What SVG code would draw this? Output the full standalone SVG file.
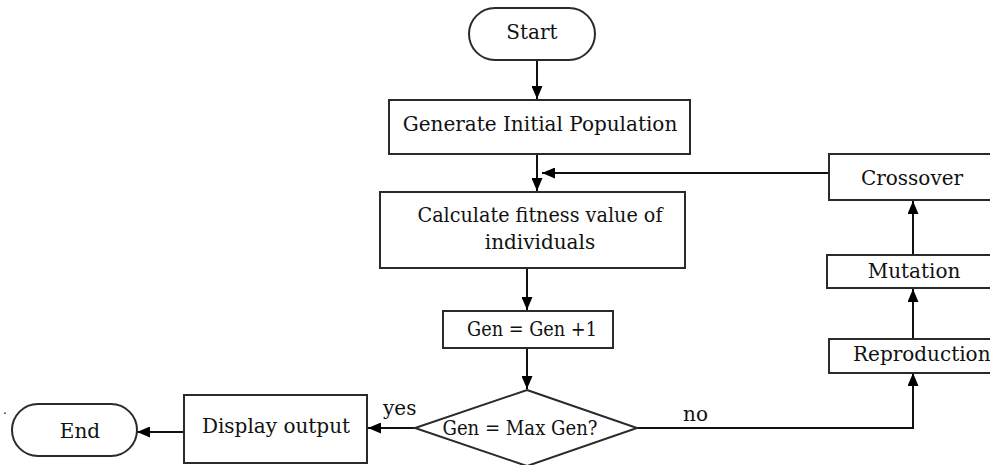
<svg xmlns="http://www.w3.org/2000/svg" width="990" height="465" viewBox="0 0 990 465">
<style>
.b{fill:#fff;stroke:#2a2a2a;stroke-width:2}
.c{fill:none;stroke:#111;stroke-width:2}
text{font-family:"DejaVu Serif","Liberation Serif",serif;font-size:20px;fill:#111;text-anchor:middle}
.l{text-anchor:start}
</style>
<defs>
<marker id="a" viewBox="0 0 13 11" refX="13" refY="5.5" markerWidth="13" markerHeight="11" markerUnits="userSpaceOnUse" orient="auto">
<path d="M0,0L13,5.5L0,11z" fill="#000"/>
</marker>
</defs>
<rect width="990" height="465" fill="#fff"/>
<g id="connectors">
<path class="c" d="M537,60V99" marker-end="url(#a)"/>
<path class="c" d="M537,154V191" marker-end="url(#a)"/>
<path class="c" d="M829,173H542" marker-end="url(#a)"/>
<path class="c" d="M527,268V310" marker-end="url(#a)"/>
<path class="c" d="M527,348V389" marker-end="url(#a)"/>
<path class="c" d="M913,255V201" marker-end="url(#a)"/>
<path class="c" d="M913,339V289" marker-end="url(#a)"/>
<path class="c" d="M637,428H913V373" marker-end="url(#a)"/>
<path class="c" d="M415,428H368" marker-end="url(#a)"/>
<path class="c" d="M184,432H137" marker-end="url(#a)"/>
<text class="l" x="383" y="415">yes</text>
<text class="l" x="683" y="421">no</text>
</g>
<g id="start"><rect class="b" x="469" y="8" width="126" height="52" rx="26"/><text x="532" y="39">Start</text></g>
<g id="generate"><rect class="b" x="389" y="100" width="301" height="54"/><text x="540" y="131">Generate Initial Population</text></g>
<g id="calculate"><rect class="b" x="380" y="192" width="305" height="76"/><text x="540" y="222" textLength="245" lengthAdjust="spacingAndGlyphs">Calculate fitness value of</text><text x="540" y="249">individuals</text></g>
<g id="gen"><rect class="b" x="443" y="311" width="170" height="37"/><text x="532" y="336" textLength="130" lengthAdjust="spacingAndGlyphs">Gen = Gen +1</text></g>
<g id="decision"><path class="b" d="M527,390L637,428L527,466L415,428Z"/><text x="520" y="435" textLength="155" lengthAdjust="spacingAndGlyphs">Gen = Max Gen?</text></g>
<g id="display"><rect class="b" x="184" y="395" width="183" height="68"/><text x="276" y="433">Display output</text></g>
<g id="end"><rect class="b" x="12" y="404" width="125" height="52" rx="26"/><text x="80" y="438">End</text></g>
<g id="crossover"><rect class="b" x="829" y="154" width="170" height="46"/><text x="912" y="185">Crossover</text></g>
<g id="mutation"><rect class="b" x="827" y="255" width="170" height="33"/><text x="914" y="278">Mutation</text></g>
<g id="reproduction"><rect class="b" x="829" y="339" width="170" height="34"/><text class="l" x="853" y="361">Reproduction</text></g>
<text x="5" y="414" style="font-size:12px">.</text>
</svg>
